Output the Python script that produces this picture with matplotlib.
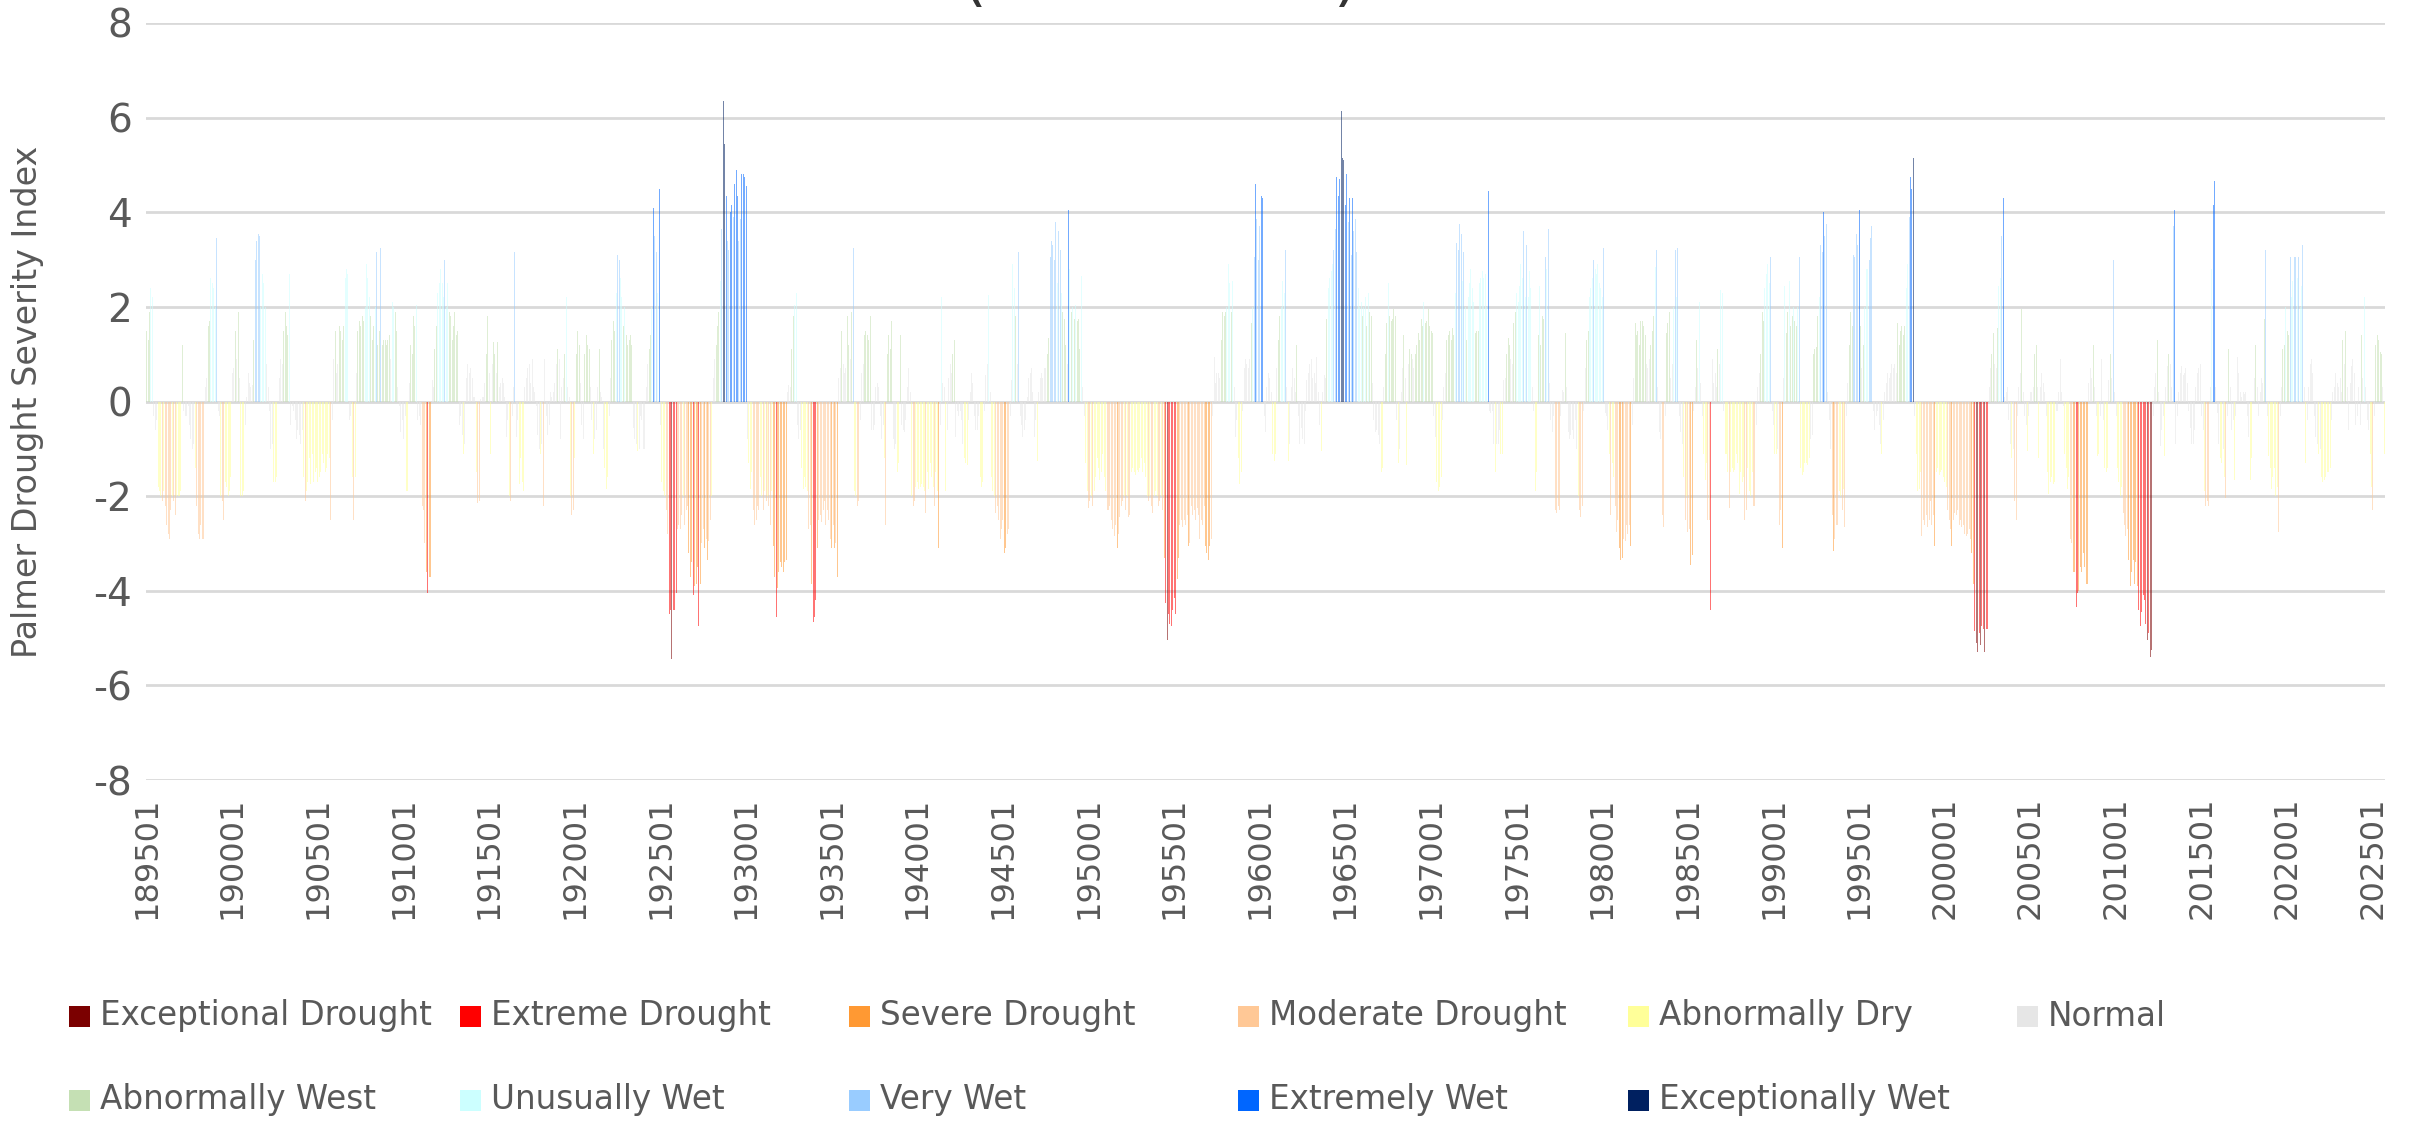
import numpy as np
import pandas as pd
import matplotlib
matplotlib.use("Agg")
import matplotlib.pyplot as plt
from matplotlib.patches import Rectangle

plt.rcParams["axes.unicode_minus"] = False

# Monthly Palmer Drought Severity Index (Jan 1895 .. Sep 2025)
pdsi_1895_1916 = [
    1.5, 1.3, 1.9, 2.4, 2.2, -0.3, -0.6, -0.4,
    -1.8, -1.9, -2.0, -2.1, -1.9, -2.2, -2.6, -2.8, -2.9, -2.3, -2.0, -2.1, -2.4, -2.0, -2.0, -2.0, -1.9,
    1.2, -0.2, -0.3, -0.3, -0.1, -0.5, -0.8, -1.0, -0.9, -1.4, -2.2,
    -2.8, -2.9, -2.6, -2.9, -2.9, 0.3, 0.5, 1.6, 1.7, 2.6, 2.5, 2.4, 2.0, 3.45,
    -0.2, -0.3, -2.0, -2.1, -2.5, -1.7, -1.8, -2.0, -1.9, -1.6,
    0.6, 0.7, 1.5, 0.9, 1.9, 0.5, -2.0, -2.0, -1.9, -0.5, 0.1, 0.6, 0.4, 0.3, 0.35,
    1.3, 3.0, 3.4, 3.55, 3.5, 2.0, 2.7, 2.5, 2.0, 0.8, 0.3, -0.2,
    -1.0, -0.9, -1.7, -1.7, -1.6, -0.3, 0.5, 0.9, 0.8, 1.5, 1.9, 1.6, 1.4, 2.7,
    -0.5, -0.1, -0.2, -0.4, -0.8, -0.6, -0.7, -0.9, -0.6,
    -1.6, -2.1, -1.9, -1.7, -1.2, -1.75, -1.1, -1.7, -1.5, -1.4, -1.7, -1.6, -1.5, -1.1, -1.3, -1.5, -1.4,
    -1.1, -1.2, -2.5, -0.4,
    0.9, 1.5, 0.6, 0.8, 1.6, 1.5, 1.3, 1.6, 2.6, 2.8, 2.7, -0.4, -0.3, -1.6, -2.5, -1.6,
    0.6, 1.5, 1.7, 1.6, 1.8, 1.7, 2.0, 2.9, 2.6, 2.2, 1.8, 1.3, 1.6, 2.0, 3.15, 1.2, 1.5, 3.25, 1.2, 1.3,
    1.3, 1.2, 1.3, 1.4, 0.9, 2.1, 2.0, 1.9, 1.5, 0.3, -0.1,
    -0.65, -0.4, -0.8, -0.3, -1.9, -1.9, 0.4, 1.2, 1.0, 1.8, 1.6, 2.05,
    -0.4, -0.3, -0.5, -2.2, -2.3, -3.0, -3.6, -4.05, -3.7, -3.7,
    0.45, 0.3, 1.1, 1.6, 2.3, 2.5, 2.8, 2.5, 2.2, 3.0, 2.0, 2.5, 1.9, 1.8, 1.3, 1.6, 1.9, 1.4, 1.5,
    -0.5, -0.3, -0.7, -1.1, -0.9,
    0.5, 0.8, 0.6, 0.7, 0.5, 0.1, 0.1, -1.5, -2.15, -2.1, 0.05, 0.1, 0.1, 0.4, 1.0, 1.8, 0.6, -1.1, 0.8, 1.25,
    1.0, 0.6, 1.25, 0.3, 0.4, 0.5, 0.4, 0.1,
    -0.75, -0.4, -2.0, -2.1, -0.3, 0.3, 3.15, -0.75, -0.4, -1.75, -1.2, -1.7,
]
pdsi_1917_1938 = [
    -1.9, 0.3, 0.5, 0.7, 0.8, 0.4, 0.9, 0.3, 0.2, -0.1, -0.7, -1.0, -1.1, -0.9, -2.2, 0.9, -0.3, -0.7, -0.5, 0.2,
    0.1, 0.2, 0.4, 0.8, 1.1, 0.9, -0.8, 0.3, 0.5, 1.0, 2.2, 0.3, 0.1, -2.0, -2.4, -2.3, -1.2, 1.0, 1.5, 1.2,
    0.4, -0.5, -0.8, 1.0, 1.4, 1.2, 1.1, 0.3, -0.4, -1.1, -0.8, -0.6, 0.3, 1.1, 0.2, 0.1, -1.0, -1.4, -1.85, -1.6,
    -0.3, 0.5, 1.3, 1.7, 1.5, 2.3, 3.1, 3.0, 2.6, 2.2, 1.6, 2.0, 1.4, 1.2, 1.3, 1.4, 1.2, -0.55, -0.8, -0.9,
    -1.05, -1.0, -0.3, -0.4, -1.0, -1.0, 0.3, 0.8, 1.1, 1.4, 2.0, 4.1, 3.5, 3.15, 2.3, 4.5, -0.5, -1.7, -1.9, -2.0,
    -2.3, -2.8, -4.5, -4.4, -5.45, -4.4, -4.4, -4.05, -2.7, -2.6, -2.7, -2.4, -2.0, -2.6, -2.3, -2.2, -3.2, -3.7, -3.4, -4.1,
    -3.9, -3.85, -3.5, -4.75, -3.85, -3.0, -2.7, -3.1, -2.9, -3.35, -2.95, -2.5, -2.0, 0.5, 0.9, 1.2, 1.6, 1.9, 2.55, 3.65,
    6.35, 5.45, 4.35, 3.4, 3.2, 4.0, 4.15, 3.9, 4.6, 4.9, 4.35, 3.4, 3.85, 4.8, 4.8, 4.75, 4.55, -0.8, -1.3, -1.85,
    -1.5, -2.3, -2.6, -2.5, -2.2, -2.3, -1.6, -2.0, -2.3, -1.9, -2.1, -2.0, -2.2, -2.6, -1.9, -3.05, -3.7, -4.55, -3.95, -3.6,
    -3.4, -3.5, -3.6, -3.4, -3.35, 0.2, 0.35, 0.3, 1.1, 1.8, 2.05, 2.3, -0.5, -0.8, -0.6, -1.4, -1.85, -1.6, -1.8, -1.9,
    -2.7, -2.6, -3.85, -4.65, -4.55, -4.2, -3.1, -2.5, -2.4, -2.55, -2.3, -2.1, -2.6, -2.3, -2.5, -2.9, -3.1, -2.6, -3.1, -3.0,
    -3.7, 0.5, 0.7, 1.5, 0.8, 0.6, 0.7, 1.8, 1.2, 0.9, 1.9, 3.25, -1.9, -2.0, -2.2, -2.1, -0.4, 0.6, 0.8, 1.4,
    1.5, 1.4, 1.3, 1.8, -0.6, -0.6, -0.5, 0.3, 0.4, 0.3, -0.3, -0.8, -0.5, -1.2, -2.6, 1.0, 1.4, 1.1, 1.7, -0.8,
    -1.0, -0.9,
]
pdsi_1938_1960 = [
    -1.5, -1.3, 1.4, -0.5, -0.6, -0.65, -0.4, 0.3, 0.7, 0.2, -2.0, -2.2, -2.1, -1.8, -1.7, -1.85, -1.8, -1.75, -1.8, -1.9,
    -2.35, -1.5, -1.85, -1.3, -1.6, -1.8, -2.2, -1.5, -1.9, -3.1, -0.5, 2.2, 0.4, 0.3, -1.9, -0.6, 0.5, 0.8, 0.6, 1.0,
    1.3, -0.75, -0.2, -0.3, -0.2, -0.4, -0.9, -1.2, -1.3, -1.35, -0.4, 0.2, 0.6, 0.4, -0.3, -0.6, -0.6, -0.3, -1.6, -1.8,
    -1.7, -0.2, 0.55, 0.8, 2.25, 0.2, -1.6, -1.9, -2.0, -2.35, -2.2, -2.5, -2.9, -2.7, -2.5, -3.2, -3.1, -2.8, -2.7, -0.3,
    0.45, 2.9, 2.4, 1.8, 0.8, 3.15, -0.3, -0.5, -0.75, -0.6, -0.4, 0.1, 0.5, 0.6, 0.7, 0.2, -0.75, -0.4, -1.25, 0.2,
    0.5, 0.6, 0.5, 0.7, 0.7, 1.0, 1.35, 3.05, 3.4, 3.3, 3.0, 3.8, 2.5, 3.6, 3.2, 2.3, 1.9, 1.75, 1.2, 0.8,
    4.05, 2.8, 1.9, 2.0, 1.75, 2.05, 1.7, 1.75, 1.1, 2.65, 0.3, -0.3, -1.3, -1.9, -2.25, -2.1, -2.0, -2.2, -1.9, -1.6,
    -1.2, -1.4, -1.65, -1.5, -1.1, -1.6, -1.9, -2.3, -2.3, -2.2, -2.5, -2.7, -2.85, -2.6, -3.1, -2.8, -2.45, -2.2, -2.1, -2.0,
    -2.3, -2.0, -2.45, -2.4, -1.5, -1.4, -1.5, -1.55, -1.45, -1.5, -1.4, -1.2, -1.5, -1.3, -1.6, -2.0, -2.1, -2.0, -2.2, -2.35,
    -2.0, -1.9, -2.0, -2.2, -2.1, -2.0, -2.3, -3.3, -4.25, -5.05, -4.5, -4.7, -4.75, -4.4, -4.15, -4.5, -3.75, -3.3, -2.6, -2.5,
    -2.65, -2.5, -2.6, -2.4, -3.05, -3.0, -2.2, -2.4, -2.3, -2.5, -2.25, -2.4, -2.9, -2.5, -2.6, -2.2, -3.05, -3.2, -3.35, -3.05,
    -2.9, -0.3, 0.95, 0.4, 0.6, 0.6, 0.5, 1.3, 1.9, 1.8, 1.9, 2.0, 2.9, 2.5, 1.9, 2.55, 0.3, -0.75, -0.4, -1.2,
    -1.75, -1.5, -0.2, 0.7, 0.9, 0.8, 0.7, 0.9, 1.65, 2.0, 3.05, 4.6, 3.85, 3.0, 3.7, 4.35, 4.3, -0.3, -0.65, 0.3,
    0.6, 0.5, 0.2,
]
pdsi_1960_1982 = [
    -1.1, -1.25, -1.1, 0.7, 1.3, 1.8, 2.0, 2.55, 2.3, 3.2, 0.3, -1.25, -0.9, 0.3, 0.7, 0.5, 0.2, 1.2, -0.3, -0.9,
    -0.55, -0.8, -0.9, -0.2, 0.45, 0.6, 0.8, 0.9, 0.5, 0.6, 0.4, 0.95, 0.2, -0.5, -1.05, 0.2, 0.55, 0.5, 1.75, 2.4,
    2.6, 2.75, 2.9, 3.2, 3.65, 4.75, 4.35, 4.7, 6.15, 5.15, 5.1, 4.15, 4.8, 3.8, 4.3, 3.1, 4.3, 3.6, 3.85, 3.15,
    2.4, 2.0, 2.1, 1.8, 2.0, 2.2, 1.6, 2.3, 1.9, 1.8, 0.4, -0.4, -0.65, -0.6, -0.7, -0.9, -1.5, -1.4, 0.3, 1.0,
    1.65, 2.5, 1.8, 1.7, 1.75, 1.95, 1.8, -0.4, -1.3, -1.0, 0.2, 0.7, 1.4, 0.5, -1.35, 0.8, 1.1, 1.0, 0.9, 0.7,
    1.0, 1.2, 1.45, 1.3, 1.75, 1.6, 2.1, 1.65, 1.7, 1.95, 1.6, 1.5, 1.45, -0.3, -0.75, -1.7, -1.9, -1.8, -1.6, -0.4,
    0.3, 0.6, 1.3, 1.4, 1.5, 1.3, 1.55, 1.4, 2.3, 3.35, 3.2, 3.75, 3.55, 2.55, 3.15, 2.0, 1.3, 2.2, 2.5, 2.8,
    2.4, 2.1, 1.45, 1.5, 1.5, 2.5, 2.6, 2.75, 2.6, 2.7, 2.0, 4.45, -0.2, -0.25, -0.2, -0.9, -1.5, -0.9, -0.9, -0.6,
    -1.1, -1.1, 0.45, 0.5, 1.0, 1.35, 1.2, 0.9, 0.8, 1.65, 1.9, 2.3, 2.1, 2.45, 2.9, 2.6, 3.6, 2.2, 3.3, 2.2,
    2.75, 2.4, 0.3, -0.2, -1.9, -1.5, 1.4, 2.45, 1.2, 1.8, 1.75, 3.05, 2.8, 3.65, 0.4, -0.4, -0.65, -0.3, -2.3, -2.35,
    -2.2, -2.3, -0.3, 0.25, 0.2, 1.45, 0.3, -0.65, -0.8, -0.7, -0.6, -0.8, -0.4, -1.0, -2.0, -2.3, -2.45, -2.2, -0.2, 0.7,
    1.3, 1.5, 2.2, 2.4, 2.6, 3.0, 2.8, 2.7, 2.9, 2.5, 2.4, 2.2, 3.25, -0.25, -0.3, -0.6, -1.1, -2.4, -1.3, -1.6,
    -2.2, -2.75, -2.5, -3.1, -3.35, -3.3, -2.9, -2.95, -2.6, -2.8, -2.6, -3.05, -0.5, 0.5, 1.65, 1.4, 1.5, 1.2, 1.7, 1.7,
    1.6, 1.4,
]
pdsi_1982_2004 = [
    0.8, 0.7, 0.9, 1.2, 1.5, 1.8, 2.85, 3.2, 0.3, -0.65, -0.8, -2.4, -2.65, -0.3, 1.45, 1.65, 1.9, 0.5, 0.8, 2.0,
    3.2, 2.2, 3.25, -0.3, -0.65, -0.9, -1.6, -2.5, -2.0, -2.75, -2.7, -3.45, -3.25, -0.2, 0.3, 1.3, 0.7, 2.1, 0.4, -0.3,
    -1.1, -1.65, -1.3, -2.5, -2.5, -4.4, 0.9, 0.4, 0.6, 0.3, 1.1, 0.8, 2.35, 2.3, -0.2, -1.1, -1.1, -1.5, -2.25, -1.5,
    -1.4, -1.5, -1.45, -1.1, -1.3, -1.95, -1.5, -1.7, -1.6, -2.5, -2.3, -1.4, -1.9, -2.0, -1.5, -2.2, -2.2, -0.5, 0.3, 0.6,
    1.0, 1.9, 1.7, 2.4, 2.7, 2.9, 2.5, 3.05, -0.2, -0.5, -1.1, -1.1, -1.0, -2.6, -2.3, -3.1, 0.5, 2.45, 1.45, 1.9,
    2.55, 1.6, 1.8, 2.0, 1.7, 1.6, 2.0, 3.05, -1.4, -1.55, -1.5, -1.3, -1.3, -1.35, -1.2, -0.8, -0.7, 1.0, 1.1, 1.15,
    1.8, 2.2, 3.3, 3.15, 4.0, 3.5, 3.75, 0.2, -0.4, -1.0, -2.4, -3.15, -2.9, -2.6, -2.6, -1.9, -2.0, -2.3, -1.85, -2.65,
    -0.3, 0.4, 1.2, 1.9, 1.6, 3.1, 3.05, 3.55, 3.3, 4.05, 1.6, 0.7, 1.2, 2.0, 2.8, 2.8, 3.0, 3.45, 3.7, -0.2,
    -0.6, -0.3, -0.2, -0.5, -0.9, -1.1, -0.4, 0.2, 0.4, 0.6, 0.5, 0.6, 0.8, 0.7, 0.8, 0.6, 1.65, 1.2, 1.5, 1.6,
    1.4, 1.6, 2.4, 2.9, 3.9, 4.75, 4.5, 5.15, -0.3, -1.1, -1.9, -1.85, -1.5, -2.85, -2.5, -2.6, -2.4, -2.65, -2.5, -2.1,
    -2.6, -2.4, -3.05, -1.5, -1.4, -1.55, -1.5, -1.45, -1.6, -1.7, -1.8, -2.3, -2.5, -2.7, -3.05, -2.5, -2.35, -2.4, -2.3, -2.6,
    -2.5, -2.65, -2.6, -2.8, -2.85, -2.8, -2.7, -2.9, -3.2, -3.85, -4.85, -5.1, -5.3, -4.9, -5.15, -4.75, -4.8, -5.3, -4.8, -4.8,
    0.3, 0.7, 1.0, 1.45, 0.8, 0.7, 1.55, 2.45, 2.6, 3.5, 4.3, 0.1, 0.2, 0.3, -0.4, -0.9, -1.2, -1.0, -2.1, -2.5,
    -0.3, 0.3, 0.6,
]
pdsi_2004_2025 = [
    1.95, 0.2, -0.3, -0.5, -1.05, -0.3, 0.2, 0.2, 0.3, 1.0, 1.2, 0.3, -1.2, 0.3, 0.6, 0.4, 0.2, -0.3, -1.5, -1.95,
    -1.7, -1.6, -1.75, -1.7, -0.2, -0.2, 0.2, 0.9, 0.2, -0.1, -1.1, -1.4, -1.85, -1.6, -2.9, -3.0, -3.6, -3.6, -4.35, -4.05,
    -4.0, -3.5, -3.6, -3.2, -3.5, -3.85, -3.85, 0.4, 0.7, 0.5, 1.2, 0.3, -0.3, -1.15, -1.1, -0.3, 0.9, -0.4, -1.4, -1.5,
    -1.4, 0.45, 1.0, 0.5, 3.0, 0.2, -0.3, -1.4, -1.7, -2.0, -1.8, -2.35, -2.6, -2.85, -2.7, -3.35, -3.9, -3.6, -3.35, -3.85,
    -3.4, -3.9, -4.4, -4.75, -4.45, -4.1, -4.2, -4.7, -5.05, -4.9, -5.4, -5.25, -0.3, 0.3, 0.6, 1.3, 0.2, -0.95, -0.6, -0.3,
    -1.15, 0.3, 0.75, 1.0, 0.8, 0.3, 3.7, 4.05, -0.9, -0.3, 0.2, 0.6, 0.75, 0.55, 0.6, 0.7, 0.4, -0.2, -0.55, -0.9,
    -0.9, -0.6, 0.3, 0.6, 0.7, 0.8, -0.3, -0.6, -1.9, -2.2, -2.1, -2.2, 0.3, 2.8, 4.15, 4.65, 0.3, -0.25, -0.9, -1.2,
    -1.3, -1.0, -1.6, -2.05, -0.3, 1.1, 0.3, -0.6, -0.4, -1.65, -0.3, 0.95, 0.6, 0.2, 0.1, 0.2, 0.15, 0.2, -0.3, -0.75,
    -1.65, -1.2, -0.3, 0.5, 1.2, 0.3, -0.3, 0.2, 0.5, 0.4, 1.75, 3.2, -0.3, -1.15, -1.4, -1.85, -1.6, -1.4, -2.0, -1.8,
    -2.75, -0.3, 0.3, 1.1, 1.2, 2.0, 1.5, 1.4, 3.05, 2.2, 2.55, 3.05, 3.05, 2.6, 3.05, 2.0, 2.45, 3.3, 0.3, -1.3,
    -0.4, 0.3, 0.8, 0.9, 0.6, -0.3, -0.75, -0.9, -1.1, -1.0, -1.6, -1.7, -1.65, -1.6, -1.5, -1.5, -1.4, -0.4, 0.2, 0.3,
    0.6, 0.4, 0.3, 0.5, 0.2, 1.3, 0.8, 1.5, 0.3, -0.6, 0.4, 0.75, 0.9, 0.6, -0.5, -0.3, 0.3, -0.5, 1.4, 0.5,
    2.2, 0.3, -0.4, -0.6, -1.1, -1.8, -2.3, -0.3, 1.2, 1.4, 1.3, 1.05, 1.0, 0.3, -1.1,
]

# drought / wetness classes
class_names = ["Exceptional Drought", "Extreme Drought", "Severe Drought", "Moderate Drought",
               "Abnormally Dry", "Normal", "Abnormally West", "Unusually Wet", "Very Wet",
               "Extremely Wet", "Exceptionally Wet"]
class_colors = ["#7B0000", "#FF0000", "#FF9933", "#FFC896", "#FFFF99", "#E6E6E6",
                "#C5E0B4", "#CCFFFF", "#99CCFF", "#0066FF", "#002060"]
class_edges = [-5, -4, -3, -2, -1, 1, 2, 3, 4, 5]

values = np.array(pdsi_1895_1916 + pdsi_1917_1938 + pdsi_1938_1960 +
                  pdsi_1960_1982 + pdsi_1982_2004 + pdsi_2004_2025)
months = pd.period_range("1895-01", periods=len(values), freq="M")
labels = months.strftime("%Y%m")
x = np.arange(len(values))
cls = np.digitize(values, class_edges)
bar_colors = [class_colors[c] for c in cls]

grey = "#595959"
fig = plt.figure(figsize=(24.12, 11.21), dpi=100)
ax = fig.add_axes([146 / 2412, 1 - 780 / 1121, (2385 - 146) / 2412, (780 - 23) / 1121])

ax.bar(x, values, width=0.7, color=bar_colors, alpha=0.55, linewidth=0, zorder=2)

ax.set_ylim(-8, 8)
ax.set_xlim(-0.5, len(values) - 0.5)
ax.set_yticks(range(-8, 9, 2))
ax.yaxis.grid(True, color="#D9D9D9", linewidth=2, zorder=0)
ax.set_axisbelow(True)
for s in ax.spines.values():
    s.set_visible(False)

ax.set_xticks(x[::60])
ax.set_xticklabels(labels[::60], rotation=90)
ax.tick_params(axis="x", length=0, pad=12, labelsize=23, colors=grey)
ax.tick_params(axis="y", length=0, pad=10, labelsize=28, colors=grey)

ax.set_ylabel("Palmer Drought Severity Index", fontsize=24, color=grey)
ax.yaxis.set_label_coords(-0.0455, 0.5)

# title sits mostly above the canvas, only the bottom of the brackets shows
fig.text(0.481, 1 + 1 / 1121, "(1895-2025)", fontsize=46, ha="center", va="baseline", color="#333333")

# legend laid out like the original: fixed columns, two rows
col_x = [69, 460, 849, 1238, 1628, 2017]
row_y = [1016, 1100]
for i, (name, col) in enumerate(zip(class_names, class_colors)):
    r, c = divmod(i, 6)
    px, py = col_x[c], row_y[r]
    fig.add_artist(Rectangle((px / 2412, 1 - (py + 10.5) / 1121), 21 / 2412, 21 / 1121,
                             transform=fig.transFigure, facecolor=col, edgecolor="none"))
    fig.text((px + 31) / 2412, 1 - py / 1121, name, fontsize=23.5, color=grey, ha="left", va="center")

fig.savefig("out.png", dpi=100)
